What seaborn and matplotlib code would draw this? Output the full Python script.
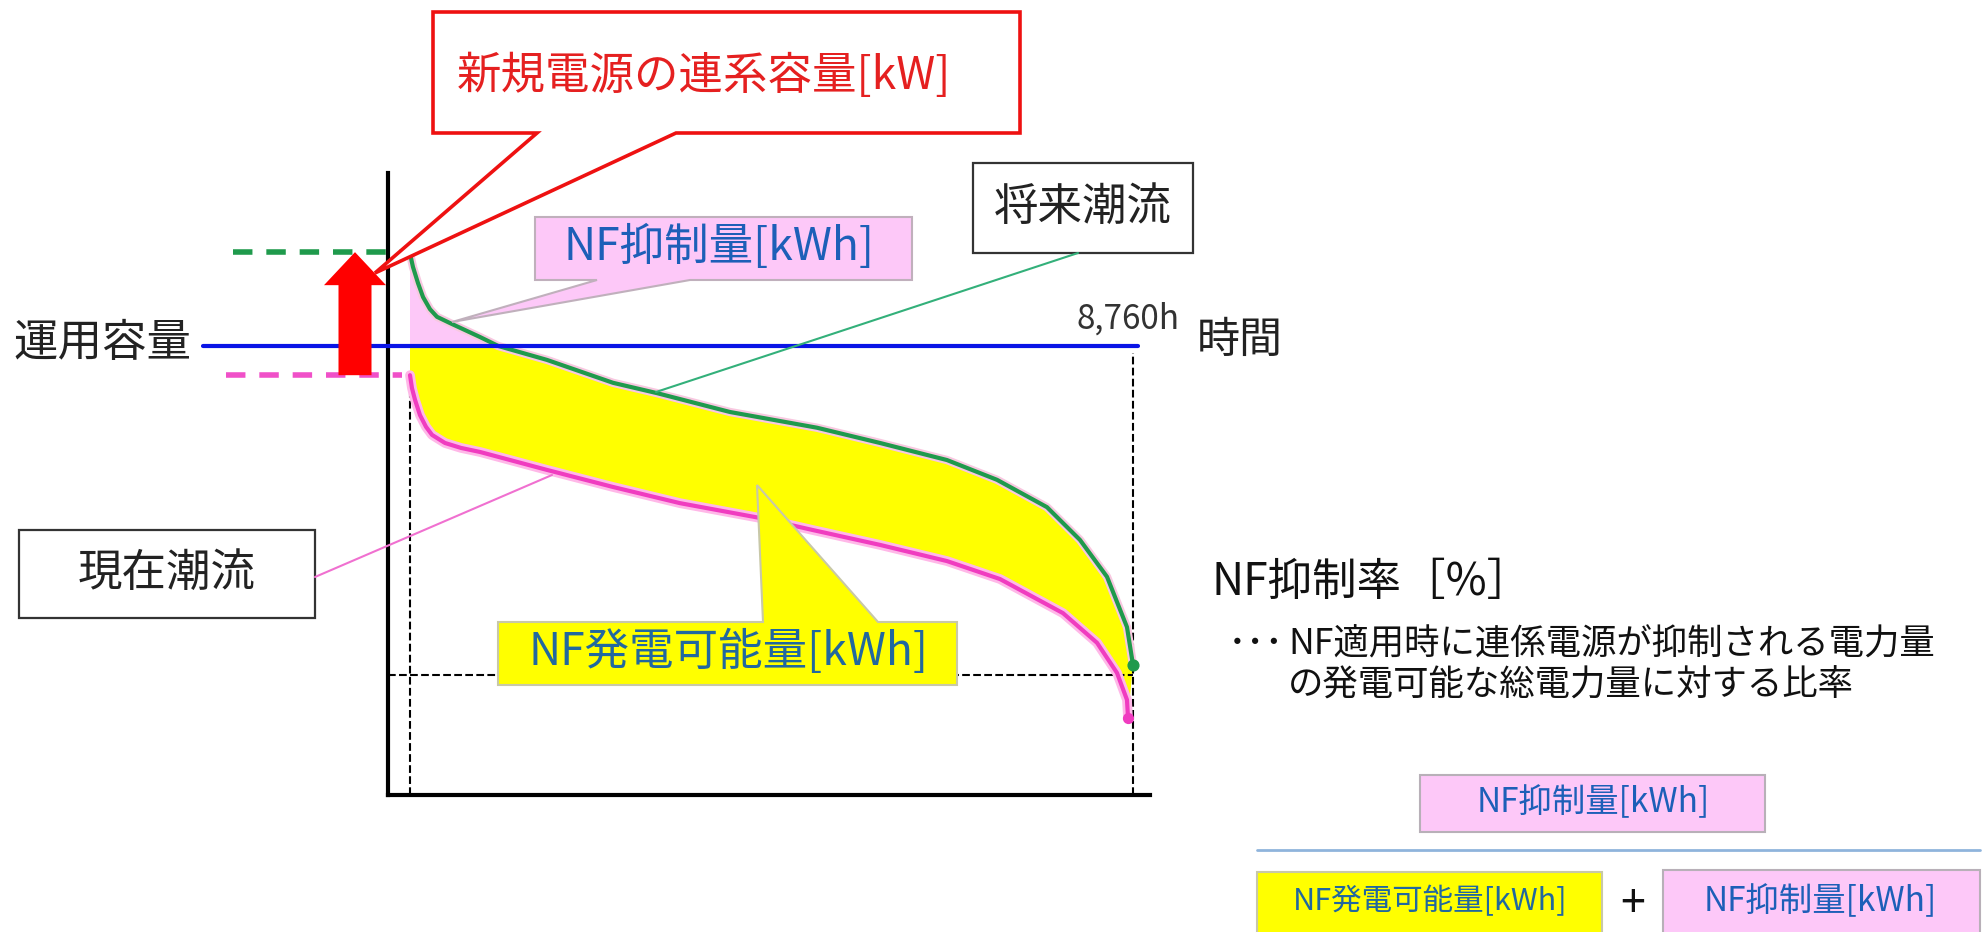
import matplotlib
matplotlib.use("Agg")
import matplotlib.pyplot as plt
from matplotlib.patches import Polygon, Rectangle, FancyArrow
import numpy as np
import pandas as pd
import seaborn as sns

sns.set_theme(style="white")
plt.rcParams["font.family"] = ["Noto Sans CJK JP", "DejaVu Sans"]
plt.rcParams["lines.solid_joinstyle"] = "round"
plt.rcParams["lines.solid_capstyle"] = "round"

# ── data: load duration curves (hours sorted by flow, 運用容量 = 100) ─────────
HOURS_FUTURE = [0, 12, 36, 97, 158, 242, 327, 485, 848, 1070, 1660, 2460, 2993,
                3877, 4931, 5695, 6506, 7112, 7718, 8118, 8445, 8687, 8760]
FLOW_FUTURE = [120.9, 119.6, 117.6, 114.0, 110.9, 108.2, 106.5, 105.1, 102.0,
               100.0, 96.9, 91.8, 89.5, 85.3, 81.8, 78.4, 74.6, 70.2, 64.1,
               56.8, 48.6, 37.4, 29.0]
HOURS_NOW = [0, 24, 61, 121, 194, 267, 424, 618, 848, 1660, 2460, 3271, 4241,
             4883, 5695, 6506, 7148, 7912, 8324, 8566, 8687, 8700]
FLOW_NOW = [93.5, 90.6, 88.0, 84.6, 82.0, 80.2, 78.4, 77.3, 76.4, 72.4, 68.6,
            65.0, 61.7, 59.0, 55.7, 52.1, 48.1, 40.5, 33.9, 27.2, 21.2, 17.1]
CAPACITY = 100.0          # 運用容量
HOURS_YEAR = 8760
NF_LEVEL = 26.7           # horizontal reference (dashed)

future = pd.DataFrame({"hour": HOURS_FUTURE, "kW": FLOW_FUTURE})
now = pd.DataFrame({"hour": HOURS_NOW, "kW": FLOW_NOW})

GREEN, PINK, BLUE, RED = "#1f9a4c", "#f03cc0", "#0a14e6", "#ff0000"
LPINK, YELLOW = "#fdc8f8", "#ffff00"
TXT_BLUE, TXT_TEAL = "#1d5fb8", "#21689f"

W, H = 1988, 932
fig = plt.figure(figsize=(W / 100, H / 100), dpi=100)

# data axes: pixel box 388..1150 x 173..795
H_PER_PX = HOURS_YEAR / (1133 - 410)
KW_PER_PX = CAPACITY / (795 - 346)
ax = fig.add_axes([388 / W, (H - 795) / H, (1150 - 388) / W, (795 - 173) / H])
ax.set_xlim(-22 * H_PER_PX, 740 * H_PER_PX)
ax.set_ylim(0, 622 * KW_PER_PX)
ax.set_xticks([])
ax.set_yticks([])
sns.despine(ax=ax)
for s in ("left", "bottom"):
    ax.spines[s].set_color("black")
    ax.spines[s].set_linewidth(3)

# fills: NF抑制量 (above capacity) and NF発電可能量 (between curves)
above = future[future["kW"] >= CAPACITY]
below = future[future["kW"] <= CAPACITY]
ax.fill([0] + above["hour"].tolist(), [CAPACITY] + above["kW"].tolist(),
        color=LPINK, lw=0, zorder=1)
ax.fill([0] + below["hour"].tolist() + now["hour"].tolist()[::-1],
        [CAPACITY] + below["kW"].tolist() + now["kW"].tolist()[::-1],
        color=YELLOW, lw=0, zorder=1)

# reference dashed lines
ax.plot([0, 0], [0, FLOW_NOW[0]], ls="--", color="black", lw=1.5, zorder=2)
ax.plot([HOURS_YEAR, HOURS_YEAR], [0, CAPACITY - 1.5], ls="--", color="black",
        lw=1.5, zorder=2)
ax.plot([ax.get_xlim()[0], HOURS_YEAR], [NF_LEVEL, NF_LEVEL], ls="--",
        color="black", lw=1.5, zorder=2)

# curves with soft halo
sns.lineplot(data=now, x="hour", y="kW", ax=ax, color="#ffb8e8", lw=7, zorder=3)
sns.lineplot(data=now, x="hour", y="kW", ax=ax, color=PINK, lw=3, zorder=4)
sns.lineplot(data=future, x="hour", y="kW", ax=ax, color="#f8c8e0", lw=6, zorder=3)
sns.lineplot(data=future, x="hour", y="kW", ax=ax, color=GREEN, lw=3, zorder=4)
ax.scatter([HOURS_FUTURE[-1]], [FLOW_FUTURE[-1]], s=60, color=GREEN, zorder=5)
ax.scatter([HOURS_NOW[-1]], [FLOW_NOW[-1]], s=50, color=PINK, zorder=5)
ax.set_xlabel("")
ax.set_ylabel("")

# 運用容量 line and start levels (extend left of the axis)
ax.plot([-207 * H_PER_PX, 728 * H_PER_PX], [CAPACITY, CAPACITY], color=BLUE,
        lw=3, zorder=4, clip_on=False)
ax.plot([-177 * H_PER_PX, -8 * H_PER_PX], [FLOW_FUTURE[0]] * 2, color=GREEN,
        lw=4, ls=(0, (3.5, 2.5)), zorder=4, clip_on=False)
ax.plot([-184 * H_PER_PX, -8 * H_PER_PX], [FLOW_NOW[0]] * 2, color="#f050c8",
        lw=4, ls=(0, (3.5, 2.5)), zorder=4, clip_on=False)
ax.add_patch(FancyArrow(-55 * H_PER_PX, FLOW_NOW[0], 0, FLOW_FUTURE[0] - FLOW_NOW[0],
                        width=33 * H_PER_PX, head_width=62 * H_PER_PX,
                        head_length=33 * KW_PER_PX, length_includes_head=True,
                        color=RED, lw=0, zorder=6, clip_on=False))
ax.text(HOURS_YEAR - 60, CAPACITY + 2.2, "8,760h", ha="center", va="bottom",
        fontsize=24, color="#333333")

# ── overlay in pixel coordinates for callouts and side texts ────────────────
ov = fig.add_axes([0, 0, 1, 1], zorder=5)
ov.set_xlim(0, W)
ov.set_ylim(H, 0)
ov.axis("off")
ov.patch.set_alpha(0)

ov.add_patch(Polygon([(433, 12), (1020, 12), (1020, 133), (676, 133), (375, 273),
                      (537, 133), (433, 133)], closed=True, fc="white",
                     ec="#ee1111", lw=2.6))
ov.text(704, 76, "新規電源の連系容量[kW]", ha="center", va="center",
        fontsize=32, color="#e52020")

ov.add_patch(Polygon([(535, 217), (912, 217), (912, 280), (690, 280), (452, 322),
                      (597, 280), (535, 280)], closed=True, fc=LPINK,
                     ec="#c0b0bc", lw=1.5))
ov.text(719, 247, "NF抑制量[kWh]", ha="center", va="center", fontsize=32,
        color=TXT_BLUE)

ov.add_patch(Rectangle((973, 163), 220, 90, fc="white", ec="#333333", lw=1.6))
ov.text(1083, 207, "将来潮流", ha="center", va="center", fontsize=32, color="#222222")
ov.plot([1078, 656], [253, 392], color="#33b07a", lw=1.5)

ov.add_patch(Rectangle((19, 530), 296, 88, fc="white", ec="#333333", lw=1.6))
ov.text(167, 573, "現在潮流", ha="center", va="center", fontsize=32, color="#222222")
ov.plot([315, 552], [577, 475], color="#f070d0", lw=1.5)

ov.add_patch(Polygon([(498, 622), (763, 622), (757, 485), (878, 622), (957, 622),
                      (957, 685), (498, 685)], closed=True, fc=YELLOW,
                     ec="#c8c8a8", lw=1.5))
ov.text(728, 652, "NF発電可能量[kWh]", ha="center", va="center", fontsize=32,
        color=TXT_TEAL)

ov.text(102, 343, "運用容量", ha="center", va="center", fontsize=32, color="#222222")
ov.text(1240, 341, "時間", ha="center", va="center", fontsize=31, color="#222222")

# NF抑制率 definition
ov.text(1211, 582, "NF抑制率［%］", ha="left", va="center", fontsize=32,
        color="#111111")
ov.text(1284, 644, "･･･", ha="right", va="center", fontsize=27, color="#111111")
ov.text(1288, 644, "NF適用時に連係電源が抑制される電力量", ha="left", va="center",
        fontsize=25.5, color="#111111")
ov.text(1288, 686, "の発電可能な総電力量に対する比率", ha="left", va="center",
        fontsize=25.5, color="#111111")

ov.add_patch(Rectangle((1420, 775), 345, 57, fc=LPINK, ec="#b8b0b8", lw=1.5))
ov.text(1593, 803, "NF抑制量[kWh]", ha="center", va="center", fontsize=24,
        color=TXT_BLUE)
ov.plot([1257, 1980], [850, 850], color="#8fb4dc", lw=2)
ov.add_patch(Rectangle((1257, 872), 345, 80, fc=YELLOW, ec="#c8c8a8", lw=1.5))
ov.text(1430, 902, "NF発電可能量[kWh]", ha="center", va="center", fontsize=22,
        color=TXT_TEAL)
ov.text(1633, 904, "+", ha="center", va="center", fontsize=32, color="#111111")
ov.add_patch(Rectangle((1663, 870), 317, 80, fc=LPINK, ec="#b8b0b8", lw=1.5))
ov.text(1820, 902, "NF抑制量[kWh]", ha="center", va="center", fontsize=24,
        color=TXT_BLUE)

fig.savefig("out.png", dpi=100)
plt.close(fig)
print("Saved → out.png")
